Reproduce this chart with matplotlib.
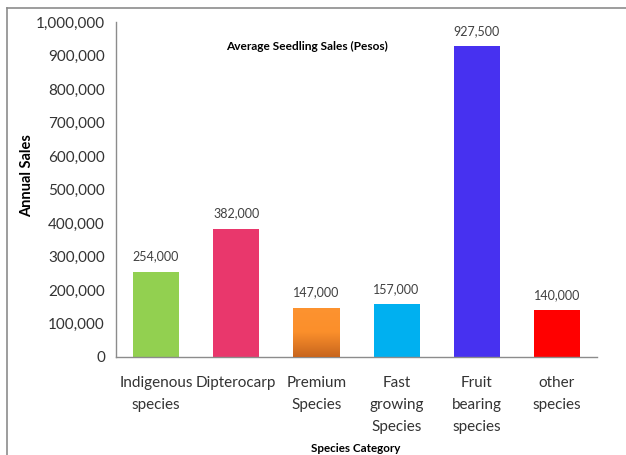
import matplotlib
matplotlib.use("Agg")
import matplotlib.pyplot as plt
import numpy as np
from matplotlib.colors import LinearSegmentedColormap

categories = ["Indigenous\nspecies", "Dipterocarp", "Premium\nSpecies",
              "Fast\ngrowing\nSpecies", "Fruit\nbearing\nspecies", "other\nspecies"]
sales = [254000, 382000, 147000, 157000, 927500, 140000]
colors = ["#92d050", "#e9376c", "#fb8f2b", "#00b0f0", "#4731f0", "#ff0000"]
yticks = [0, 100000, 200000, 300000, 400000, 500000, 600000, 700000, 800000, 900000, 1000000]

plt.rcParams["font.family"] = ["Lato", "DejaVu Sans"]

fig = plt.figure(figsize=(6.26, 4.55), dpi=100)
ax = fig.add_axes([116/626, 1 - 357/455, 481/626, 335/455])

x = np.arange(len(categories))
bars = ax.bar(x, sales, width=0.575, color=colors, zorder=2)

# vertical gradient on the Premium bar
premium = bars[2]
grad = LinearSegmentedColormap.from_list("prem", ["#c8661e", "#fb8f2b", "#fd9330"])
xs = premium.get_x()
img = ax.imshow(np.linspace(0, 1, 100).reshape(-1, 1), cmap=grad, aspect="auto",
                extent=[xs, xs + premium.get_width(), 0, premium.get_height()],
                origin="lower", zorder=3)
img.set_clip_path(premium)

for b, v in zip(bars, sales):
    ax.text(b.get_x() + b.get_width() / 2, v + 28000, f"{v:,}", ha="center", va="bottom",
            fontsize=9, color="#404040")

ax.set_xlim(-0.5, len(categories) - 0.5)
ax.set_ylim(0, 1000000)
ax.set_yticks(yticks)
ax.set_yticklabels([f"{t:,}" for t in yticks], fontsize=11, color="#333333")
ax.set_xticks(x)
ax.set_xticklabels(categories, fontsize=11, color="#333333", linespacing=1.7, va="top")
ax.tick_params(axis="both", length=0, pad=8)
ax.tick_params(axis="x", pad=14)

for s in ["top", "right"]:
    ax.spines[s].set_visible(False)
for s in ["left", "bottom"]:
    ax.spines[s].set_color("#8c8c8c")
    ax.spines[s].set_linewidth(1.0)

fig.text(307/626, 1 - 46/455, "Average Seedling Sales (Pesos)", ha="center", va="center",
         fontsize=8.6, fontweight="bold", color="black")
fig.text(27/626, 1 - 176/455, "Annual Sales", ha="center", va="center", rotation=90,
         fontsize=10.5, fontweight="bold", color="black")
fig.text(356/626, 1 - 448/455, "Species Category", ha="center", va="center",
         fontsize=8.4, fontweight="bold", color="black")

# chart-area border
fig.add_artist(plt.Line2D([7/626, 7/626], [0, 1 - 8/455], color="#8c8c8c", lw=1.2,
                          transform=fig.transFigure))
fig.add_artist(plt.Line2D([7/626, 1], [1 - 8/455, 1 - 8/455], color="#8c8c8c", lw=1.2,
                          transform=fig.transFigure))

fig.savefig("out.png", dpi=100)
